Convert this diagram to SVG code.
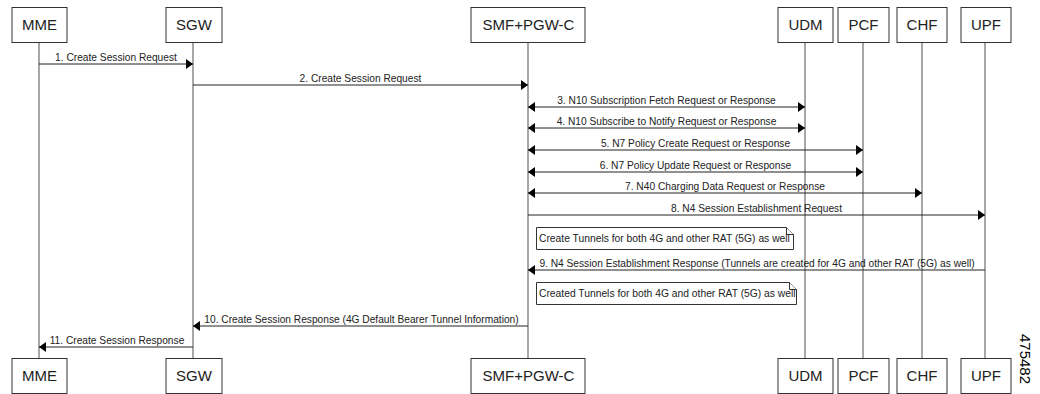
<svg xmlns="http://www.w3.org/2000/svg" width="1040" height="394" viewBox="0 0 1040 394">
<style>
.box{fill:#fff;stroke:#333;stroke-width:1}
.bt{font-family:"Liberation Sans",Arial,sans-serif;font-size:15px;fill:#222;text-anchor:middle}
.life{stroke:#8a8a8a;stroke-width:1.5;fill:none}
.msg{stroke:#222;stroke-width:1;fill:none}
.ml{font-family:"Liberation Sans",Arial,sans-serif;font-size:10.2px;fill:#222;text-anchor:middle}
.nt{font-family:"Liberation Sans",Arial,sans-serif;font-size:10.3px;fill:#222}
.note{fill:#fff;stroke:#333;stroke-width:1}
</style>
<defs>
<marker id="ah" viewBox="0 0 7 10" refX="7" refY="5" markerWidth="7" markerHeight="10" markerUnits="userSpaceOnUse" orient="auto-start-reverse">
<path d="M0,0 L7,5 L0,10 Z" fill="#000"/>
</marker>
</defs>
<g id="lifelines">
<line class="life" x1="39" y1="42" x2="39" y2="358"/>
<line class="life" x1="193" y1="42" x2="193" y2="358"/>
<line class="life" x1="528" y1="42" x2="528" y2="358"/>
<line class="life" x1="805" y1="42" x2="805" y2="358"/>
<line class="life" x1="863" y1="42" x2="863" y2="358"/>
<line class="life" x1="922" y1="42" x2="922" y2="358"/>
<line class="life" x1="985" y1="42" x2="985" y2="358"/>
</g>
<g id="node-MME">
<rect class="box" x="12" y="7.5" width="55" height="35"/><text class="bt" x="39.5" y="30">MME</text>
<rect class="box" x="12" y="358.5" width="55" height="35"/><text class="bt" x="39.5" y="381">MME</text>
</g>
<g id="node-SGW">
<rect class="box" x="166" y="7.5" width="56" height="35"/><text class="bt" x="194" y="30">SGW</text>
<rect class="box" x="166" y="358.5" width="56" height="35"/><text class="bt" x="194" y="381">SGW</text>
</g>
<g id="node-SMF">
<rect class="box" x="471" y="7.5" width="114" height="35"/><text class="bt" x="528.5" y="30">SMF+PGW-C</text>
<rect class="box" x="471" y="358.5" width="114" height="35"/><text class="bt" x="528.5" y="381">SMF+PGW-C</text>
</g>
<g id="node-UDM">
<rect class="box" x="778" y="7.5" width="55" height="35"/><text class="bt" x="805.5" y="30">UDM</text>
<rect class="box" x="778" y="358.5" width="55" height="35"/><text class="bt" x="805.5" y="381">UDM</text>
</g>
<g id="node-PCF">
<rect class="box" x="838" y="7.5" width="51" height="35"/><text class="bt" x="863.5" y="30">PCF</text>
<rect class="box" x="838" y="358.5" width="51" height="35"/><text class="bt" x="863.5" y="381">PCF</text>
</g>
<g id="node-CHF">
<rect class="box" x="897" y="7.5" width="50" height="35"/><text class="bt" x="922" y="30">CHF</text>
<rect class="box" x="897" y="358.5" width="50" height="35"/><text class="bt" x="922" y="381">CHF</text>
</g>
<g id="node-UPF">
<rect class="box" x="961" y="7.5" width="50" height="35"/><text class="bt" x="986" y="30">UPF</text>
<rect class="box" x="961" y="358.5" width="50" height="35"/><text class="bt" x="986" y="381">UPF</text>
</g>
<g id="connectors">
<line class="msg" x1="39" y1="64" x2="193" y2="64" marker-end="url(#ah)"/>
<text class="ml" x="116" y="61">1. Create Session Request</text>
<line class="msg" x1="193" y1="85" x2="528" y2="85" marker-end="url(#ah)"/>
<text class="ml" x="360.5" y="82">2. Create Session Request</text>
<line class="msg" x1="528" y1="107" x2="805" y2="107" marker-start="url(#ah)" marker-end="url(#ah)"/>
<text class="ml" x="666.5" y="104">3. N10 Subscription Fetch Request or Response</text>
<line class="msg" x1="528" y1="128" x2="805" y2="128" marker-start="url(#ah)" marker-end="url(#ah)"/>
<text class="ml" x="666.5" y="125">4. N10 Subscribe to Notify Request or Response</text>
<line class="msg" x1="528" y1="150" x2="863" y2="150" marker-start="url(#ah)" marker-end="url(#ah)"/>
<text class="ml" x="695.5" y="147">5. N7 Policy Create Request or Response</text>
<line class="msg" x1="528" y1="172" x2="863" y2="172" marker-start="url(#ah)" marker-end="url(#ah)"/>
<text class="ml" x="695.5" y="169">6. N7 Policy Update Request or Response</text>
<line class="msg" x1="528" y1="193" x2="922" y2="193" marker-start="url(#ah)" marker-end="url(#ah)"/>
<text class="ml" x="725" y="190">7. N40 Charging Data Request or Response</text>
<line class="msg" x1="528" y1="215" x2="985" y2="215" marker-end="url(#ah)"/>
<text class="ml" x="756.5" y="212">8. N4 Session Establishment Request</text>
<line class="msg" x1="985" y1="270" x2="528" y2="270" marker-end="url(#ah)"/>
<text class="ml" x="757" y="267">9. N4 Session Establishment Response (Tunnels are created for 4G and other RAT (5G) as well)</text>
<line class="msg" x1="528" y1="326" x2="193" y2="326" marker-end="url(#ah)"/>
<text class="ml" x="361.5" y="323">10. Create Session Response (4G Default Bearer Tunnel Information)</text>
<line class="msg" x1="193" y1="347" x2="39" y2="347" marker-end="url(#ah)"/>
<text class="ml" x="117" y="344">11. Create Session Response</text>
</g>
<g id="note-1">
<path class="note" d="M536.5,227.5 H786.5 L793.5,234.5 V249.5 H536.5 Z"/>
<path class="note" d="M786.5,227.5 V234.5 H793.5" fill="none"/>
<text class="nt" x="539" y="241.5">Create Tunnels for both 4G and other RAT (5G) as well</text>
</g>
<g id="note-2">
<path class="note" d="M536.5,282.5 H789.5 L796.5,289.5 V304.5 H536.5 Z"/>
<path class="note" d="M789.5,282.5 V289.5 H796.5" fill="none"/>
<text class="nt" x="539" y="296.5">Created Tunnels for both 4G and other RAT (5G) as well</text>
</g>
<text x="1020" y="359" transform="rotate(90 1020 359)" font-family="'Liberation Sans',Arial,sans-serif" font-size="15" fill="#000" text-anchor="middle">475482</text>
</svg>
